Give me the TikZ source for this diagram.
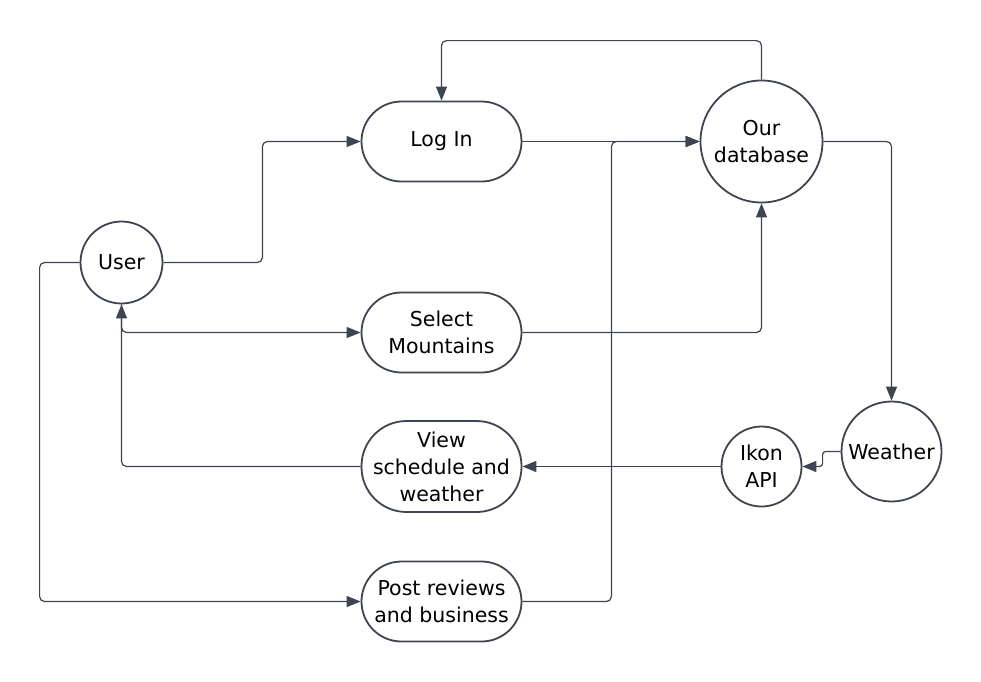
\documentclass[tikz,border=0pt]{standalone}
\usepackage{fontspec}
\setmainfont{DejaVu Sans}
\usetikzlibrary{arrows.meta}
\definecolor{ink}{HTML}{3F4550}
\tikzset{
  shapebase/.style={draw=ink, line width=1.8pt, fill=white, align=center, inner sep=0pt,
    font=\fontsize{20.5}{27}\selectfont, text=black},
  circ/.style={shapebase, circle},
  pill/.style={shapebase, rectangle, rounded corners=40pt, minimum width=160pt, minimum height=80pt},
  conn/.style={draw=ink, line width=1.2pt, rounded corners=5pt,
    -{Triangle[length=14pt,width=11pt]}}
}
\begin{document}
\begin{tikzpicture}[x=1pt,y=-1pt]
\useasboundingbox[fill=white] (-0.5,-0.5) rectangle (980.5,680.5);
\node[circ, minimum size=82pt] (user) at (121,262) {User};
\node[pill] (login) at (441,141) {Log In};
\node[circ, minimum size=122pt] (db) at (761,141) {Our\\database};
\node[pill] (sel) at (441,332) {Select\\Mountains};
\node[pill, minimum height=91pt, rounded corners=45pt] (view) at (441,466) {View\\schedule and\\weather};
\node[pill] (post) at (441,601) {Post reviews\\and business};
\node[circ, minimum size=80pt] (ikon) at (761,466) {Ikon\\API};
\node[circ, minimum size=100pt] (weather) at (891,451) {Weather};

\draw[conn] (user.east) -- ++(99,0) |- (login.west);
\draw[conn] (login.east) -- (db.west);
\draw[conn] (db.north) -- ++(0,-39) -| (login.north);
\draw[conn] (user.south) |- (sel.west);
\draw[conn] (view.west) -| (user.south);
\draw[conn] (sel.east) -| (db.south);
\draw[conn] (db.east) -| (weather.north);
\draw[conn, rounded corners=3pt] (weather.west) -- ++(-18,0) |- (ikon.east);
\draw[conn] (ikon.west) -- (view.east);
\draw[conn] (user.west) -- ++(-40,0) |- (post.west);
\draw[conn] (post.east) -- ++(89,0) |- (db.west);
\end{tikzpicture}
\end{document}
